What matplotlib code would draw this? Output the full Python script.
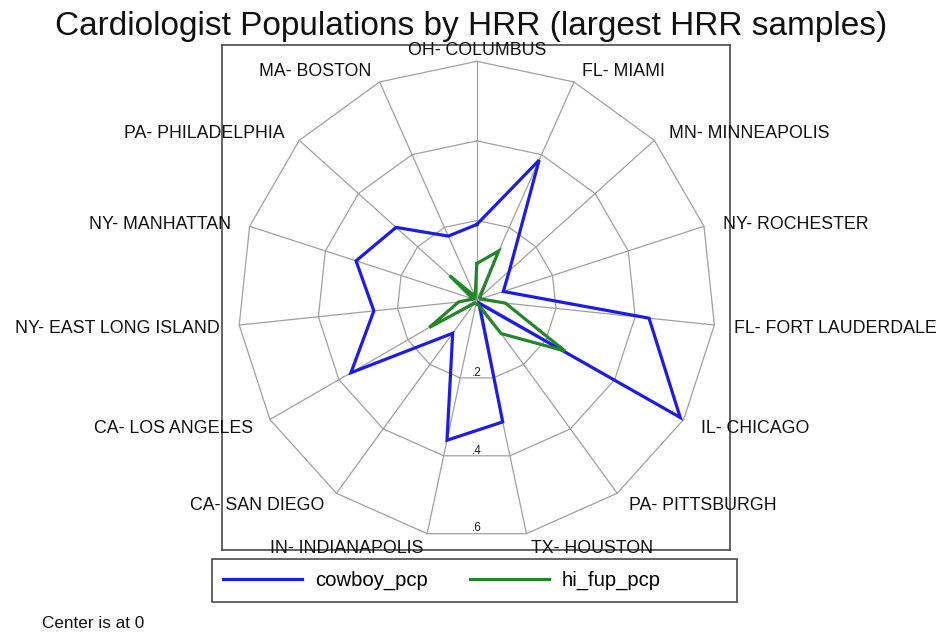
import numpy as np
import matplotlib
matplotlib.use("Agg")
import matplotlib.pyplot as plt
from matplotlib.lines import Line2D
from matplotlib.patches import Rectangle

plt.rcParams['font.family'] = ['Liberation Sans', 'DejaVu Sans']

categories = ["OH- COLUMBUS", "FL- MIAMI", "MN- MINNEAPOLIS", "NY- ROCHESTER",
              "FL- FORT LAUDERDALE", "IL- CHICAGO", "PA- PITTSBURGH", "TX- HOUSTON",
              "IN- INDIANAPOLIS", "CA- SAN DIEGO", "CA- LOS ANGELES",
              "NY- EAST LONG ISLAND", "NY- MANHATTAN", "PA- PHILADELPHIA", "MA- BOSTON"]
cowboy_pcp = [0.19, 0.385, 0.11, 0.07, 0.435, 0.59, 0.01, 0.313, 0.36, 0.103,
              0.365, 0.26, 0.319, 0.273, 0.176]
hi_fup_pcp = [0.092, 0.135, 0.01, 0.01, 0.072, 0.256, 0.104, 0.01, 0.01, 0.01,
              0.138, 0.046, 0.01, 0.092, 0.01]
ring_ticks = [0.2, 0.4, 0.6]
ring_labels = [".2", ".4", ".6"]

n = len(categories)
theta = np.arange(n) * 2 * np.pi / n
rmax = max(ring_ticks)

fig = plt.figure(figsize=(9.47, 6.38), dpi=100)
ax = fig.add_axes([222 / 947, 1 - 550 / 638, 508 / 947, 505 / 638])
ax.set_xlim(-0.64, 0.636)
ax.set_ylim(-0.628, 0.641)
ax.set_xticks([])
ax.set_yticks([])
for s in ax.spines.values():
    s.set_color('#4a4a4a')
    s.set_linewidth(1.2)

grid_c = '#a0a0a0'
# spokes
for t in theta:
    ax.plot([0, rmax * np.sin(t)], [0, rmax * np.cos(t)], color=grid_c, lw=0.9, zorder=1)
# rings
tc = np.append(theta, theta[0])
for r in ring_ticks:
    ax.plot(r * np.sin(tc), r * np.cos(tc), color=grid_c, lw=0.9, zorder=1)
# ring labels
for r, lab in zip(ring_ticks, ring_labels):
    ax.text(0, -r * np.cos(np.pi / n) - 0.002, lab, ha='center', va='bottom',
            fontsize=8.5, color='#222222', zorder=2)


def closed(vals):
    v = np.array(vals + vals[:1])
    return v * np.sin(tc), v * np.cos(tc)

x, y = closed(cowboy_pcp)
ax.plot(x, y, color='#1c1ce6', lw=2.3, zorder=3, solid_joinstyle='miter')
x, y = closed(hi_fup_pcp)
ax.plot(x, y, color='#24862a', lw=2.3, zorder=3, solid_joinstyle='miter')

# category labels
for t, lab in zip(theta, categories):
    s, c = np.sin(t), np.cos(t)
    if abs(s) < 0.05:
        ha = 'center'
    elif s > 0:
        ha = 'left'
    else:
        ha = 'right'
    ax.text(rmax * s + 0.05 * s, rmax * c + 0.033 * c - 0.005, lab, ha=ha, va='center',
            fontsize=12.8, color='#111111', clip_on=False, zorder=4)

fig.text(0.498, 0.958, "Cardiologist Populations by HRR (largest HRR samples)",
         ha='center', va='center', fontsize=24, color='#111111')

# legend frame
fig.patches.append(Rectangle((212 / 947, 1 - 602 / 638), 525 / 947, 43 / 638,
                             transform=fig.transFigure, fill=False,
                             edgecolor='#4a4a4a', lw=1.2))
handles = [Line2D([], [], color='#1c1ce6', lw=2.3),
           Line2D([], [], color='#24862a', lw=2.3)]
fig.legend(handles, ["cowboy_pcp", "hi_fup_pcp"], loc='center left',
           bbox_to_anchor=(212 / 947, 1 - 580.5 / 638), ncol=2, frameon=False,
           fontsize=14.6, handlelength=3.9, handletextpad=0.64,
           columnspacing=2.07, borderpad=0, borderaxespad=0.55)

fig.text(42 / 947, 1 - 624 / 638, "Center is at 0", ha='left', va='center',
         fontsize=12.3, color='#111111')

fig.savefig("out.png", dpi=100)
